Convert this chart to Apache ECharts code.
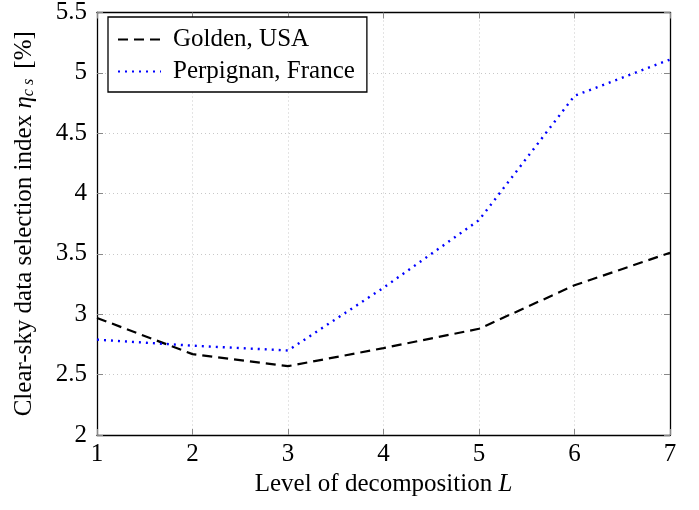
<!DOCTYPE html>
<html>
<head>
<meta charset="utf-8">
<script src="https://cdn.jsdelivr.net/npm/echarts@6/dist/echarts.min.js"></script>
<style>
  html, body { margin: 0; padding: 0; background: #fff; }
  #chart { width: 699px; height: 510px; }
</style>
</head>
<body>
<div id="chart"></div>
<script>
// Decomposition levels
const levels = [1, 2, 3, 4, 5, 6, 7];
// Clear-sky data selection index per site [%]
const golden = [2.97, 2.67, 2.57, 2.72, 2.88, 3.24, 3.51];
const perpignan = [2.79, 2.74, 2.70, 3.22, 3.78, 4.81, 5.11];
const seriesNames = ['Golden, USA', 'Perpignan, France'];

const font = 'Liberation Serif, Times New Roman, serif';
const fs = 25;
const gridLine = { show: true, lineStyle: { color: '#c8c8c8', type: [1, 3], width: 1 } };
const tick = { show: true, inside: true, length: 6, lineStyle: { color: '#888', width: 1 } };

const chart = echarts.init(document.getElementById('chart'), null, { renderer: 'canvas' });
chart.setOption({
  animation: false,
  backgroundColor: '#fff',
  textStyle: { fontFamily: font },
  grid: { left: 97, right: 29, top: 8, bottom: 75, containLabel: false },
  legend: {
    left: 108, top: 17,
    orient: 'vertical',
    backgroundColor: '#fff',
    borderColor: '#000', borderWidth: 1.3,
    padding: [10, 12, 8, 9],
    itemGap: 7,
    itemWidth: 43, itemHeight: 14,
    itemStyle: { opacity: 0 },
    textStyle: { fontFamily: font, fontSize: fs, lineHeight: 25, color: '#000', padding: [0, 0, 0, 7] },
    data: seriesNames
  },
  xAxis: [{
    type: 'value', min: 1, max: 7, interval: 1,
    name: 'Level of decomposition {i|L}',
    nameLocation: 'middle', nameGap: 33,
    nameTextStyle: { fontFamily: font, fontSize: fs, color: '#000',
      rich: { i: { fontFamily: font, fontSize: fs, fontStyle: 'italic', color: '#000' } } },
    axisLine: { lineStyle: { color: '#000', width: 1.3 } },
    axisTick: tick,
    axisLabel: { fontFamily: font, fontSize: fs, color: '#000', margin: 7 },
    splitLine: gridLine
  }, {
    type: 'value', min: 1, max: 7, interval: 1, position: 'top',
    axisLine: { lineStyle: { color: '#000', width: 1.3 } },
    axisTick: tick, axisLabel: { show: false }, splitLine: { show: false }
  }],
  yAxis: [{
    type: 'value', min: 2, max: 5.5, interval: 0.5,
    name: 'Clear-sky data selection index {i|η}{s|c s} [%]',
    nameLocation: 'middle', nameGap: 60,
    nameTextStyle: { fontFamily: font, fontSize: fs, color: '#000',
      rich: {
        i: { fontFamily: font, fontSize: fs, fontStyle: 'italic', color: '#000' },
        s: { fontFamily: font, fontSize: 16, fontStyle: 'italic', color: '#000', verticalAlign: 'bottom', padding: [10, 4, 0, 0] }
      } },
    axisLine: { show: true, lineStyle: { color: '#000', width: 1.3 } },
    axisTick: tick,
    axisLabel: { fontFamily: font, fontSize: fs, color: '#000', margin: 10 },
    splitLine: gridLine
  }, {
    type: 'value', min: 2, max: 5.5, interval: 0.5, position: 'right',
    axisLine: { show: true, lineStyle: { color: '#000', width: 1.3 } },
    axisTick: tick, axisLabel: { show: false }, splitLine: { show: false }
  }],
  series: [{
    name: seriesNames[0], type: 'line',
    data: levels.map((x, i) => [x, golden[i]]),
    showSymbol: false, symbol: 'none',
    lineStyle: { color: '#000', width: 2.2, type: [10, 6] },
    itemStyle: { color: '#000' }
  }, {
    name: seriesNames[1], type: 'line',
    data: levels.map((x, i) => [x, perpignan[i]]),
    showSymbol: false, symbol: 'none',
    lineStyle: { color: '#0000ff', width: 2.4, type: [2, 5] },
    itemStyle: { color: '#0000ff' }
  }]
});
</script>
</body>
</html>
